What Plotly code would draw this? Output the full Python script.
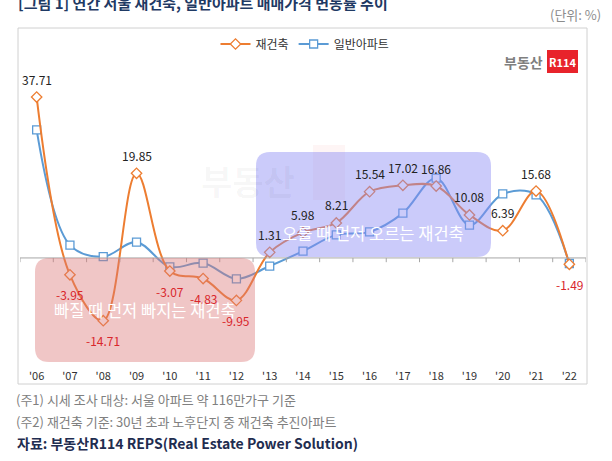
import plotly.graph_objects as go

# data
years = ["'06", "'07", "'08", "'09", "'10", "'11", "'12", "'13", "'14",
         "'15", "'16", "'17", "'18", "'19", "'20", "'21", "'22"]
rebuild = [37.71, -3.95, -14.71, 19.85, -3.07, -4.83, -9.95, 1.31, 5.98,
           8.21, 15.54, 17.02, 16.86, 10.08, 6.39, 15.68, -1.49]
general = [30.0, 3.0, 0.3, 3.7, -2.1, -1.2, -4.9, -1.9, 1.6,
           5.4, 6.1, 10.5, 18.7, 7.7, 15.0, 14.8, -1.3]

FONT = "Noto Sans CJK KR"
W, H = 612, 461
L, R, T, B = 20, 26, 60, 93
xs = list(range(len(years)))


# pixel -> paper helpers
def px(x):
    return (x - L) / (W - L - R)


def py(y):
    return (H - B - y) / (H - T - B)


def rrect(x0, x1, y0, y1, r=14):
    # rounded rectangle in pixels -> paper path
    a, b = px(x0), px(x1)
    c, d = py(y1), py(y0)
    rx, ry = r / (W - L - R), r / (H - T - B)
    return (f"M{a+rx},{c} L{b-rx},{c} Q{b},{c} {b},{c+ry} L{b},{d-ry} "
            f"Q{b},{d} {b-rx},{d} L{a+rx},{d} Q{a},{d} {a},{d-ry} "
            f"L{a},{c+ry} Q{a},{c} {a+rx},{c} Z")


def label(x, y, text, size=12, color="#333333", anchor="center"):
    # free text placed in pixels
    return dict(x=px(x), y=py(y), xref="paper", yref="paper", showarrow=False,
                xanchor=anchor, yanchor="middle", text=text,
                font=dict(family=FONT, size=size, color=color))


fig = go.Figure()
fig.add_trace(go.Scatter(
    x=xs, y=general, name="일반아파트", mode="lines+markers",
    line=dict(color="#5B9BD5", width=2, shape="spline", smoothing=1.0),
    marker=dict(symbol="square", size=8, color="white",
                line=dict(color="#5B9BD5", width=1.3))))
fig.add_trace(go.Scatter(
    x=xs, y=rebuild, name="재건축", mode="lines+markers",
    line=dict(color="#ED7D31", width=2, shape="spline", smoothing=1.0),
    marker=dict(symbol="diamond", size=8, color="white",
                line=dict(color="#ED7D31", width=1.3))))

shapes = []
# chart frame
shapes.append(dict(type="rect", xref="paper", yref="paper",
                   x0=px(18), x1=px(587), y0=py(384), y1=py(28),
                   line=dict(color="#D0D0D0", width=1), layer="below"))
# zero axis line with category ticks
shapes.append(dict(type="line", xref="x", yref="y", x0=-0.5, x1=len(years) - 0.5,
                   y0=0, y1=0, line=dict(color="#A6A6A6", width=1)))
for i in range(len(years) + 1):
    shapes.append(dict(type="line", xref="x", yref="y", x0=i - 0.5, x1=i - 0.5,
                       y0=0, y1=-1.0, line=dict(color="#A6A6A6", width=1)))
# highlight boxes
shapes.append(dict(type="path", xref="paper", yref="paper", path=rrect(35, 255, 258, 362),
                   fillcolor="rgba(220,120,120,0.42)", line=dict(width=0), layer="above"))
shapes.append(dict(type="path", xref="paper", yref="paper", path=rrect(256, 491, 152, 257),
                   fillcolor="rgba(140,140,245,0.45)", line=dict(width=0), layer="above"))
# watermark + logo box
shapes.append(dict(type="rect", xref="paper", yref="paper",
                   x0=px(313), x1=px(345), y0=py(200), y1=py(145),
                   fillcolor="rgba(230,60,60,0.05)", line=dict(width=0), layer="below"))
shapes.append(dict(type="rect", xref="paper", yref="paper",
                   x0=px(547), x1=px(578), y0=py(73), y1=py(50),
                   fillcolor="#E8232B", line=dict(width=0)))

ann = []
# data labels
for i, v in enumerate(rebuild):
    ann.append(dict(x=i, y=v, xref="x", yref="y", text=f"{v:.2f}", showarrow=False,
                    xanchor="center", yanchor="middle", yshift=18 if v > 0 else -20,
                    font=dict(family=FONT, size=12, color="#222222" if v > 0 else "#D9262C")))
# box texts
ann.append(label(145, 310, "빠질 때 먼저 빠지는 재건축", 16.5, "white"))
ann.append(label(373, 233, "오를 때 먼저 오르는 재건축", 16.5, "white"))
# watermark
ann.append(label(248, 180, "<b>부동산</b>", 34, "rgba(0,0,0,0.04)"))
# logo
ann.append(label(545, 62, "<b>부동산</b>", 14, "#7F7F7F", "right"))
ann.append(label(562.5, 62, "<b>R114</b>", 11, "white"))
# title, unit, notes
ann.append(label(16, 3, "<b>[그림 1] 연간 서울 재건축, 일반아파트 매매가격 변동률 추이</b>",
                 15, "#1F3A64", "left"))
ann.append(label(603, 14, "(단위: %)", 13, "#8C8C8C", "right"))
ann.append(label(14, 399, "(주1) 시세 조사 대상: 서울 아파트 약 116만가구 기준", 13, "#808080", "left"))
ann.append(label(14, 421, "(주2) 재건축 기준: 30년 초과 노후단지 중 재건축 추진아파트", 13, "#808080", "left"))
ann.append(label(15, 443, "<b>자료: 부동산R114 REPS(Real Estate Power Solution)</b>", 14, "#1F2D50", "left"))

fig.update_layout(
    width=W, height=H, margin=dict(l=L, r=R, t=T, b=B),
    paper_bgcolor="white", plot_bgcolor="white",
    font=dict(family=FONT, size=12, color="#333333"),
    showlegend=True,
    legend=dict(orientation="h", x=px(305), y=py(44), xanchor="center", yanchor="middle",
                traceorder="reversed", font=dict(family=FONT, size=12, color="#333333"),
                itemwidth=30, bgcolor="rgba(0,0,0,0)"),
    xaxis=dict(range=[-0.5, len(years) - 0.5], tickvals=xs, ticktext=years,
               showgrid=False, zeroline=False, showline=False, ticks="",
               tickfont=dict(family=FONT, size=11, color="#333333")),
    yaxis=dict(range=[-25.8, 46.4], showgrid=False, zeroline=False, showline=False,
               showticklabels=False, ticks=""),
    shapes=shapes, annotations=ann,
)

# page body has a default 8px margin; drop it so the figure sits at 0,0
fig.write_html("out.html", config={"displayModeBar": False},
               post_script="document.body.style.margin='0';")
